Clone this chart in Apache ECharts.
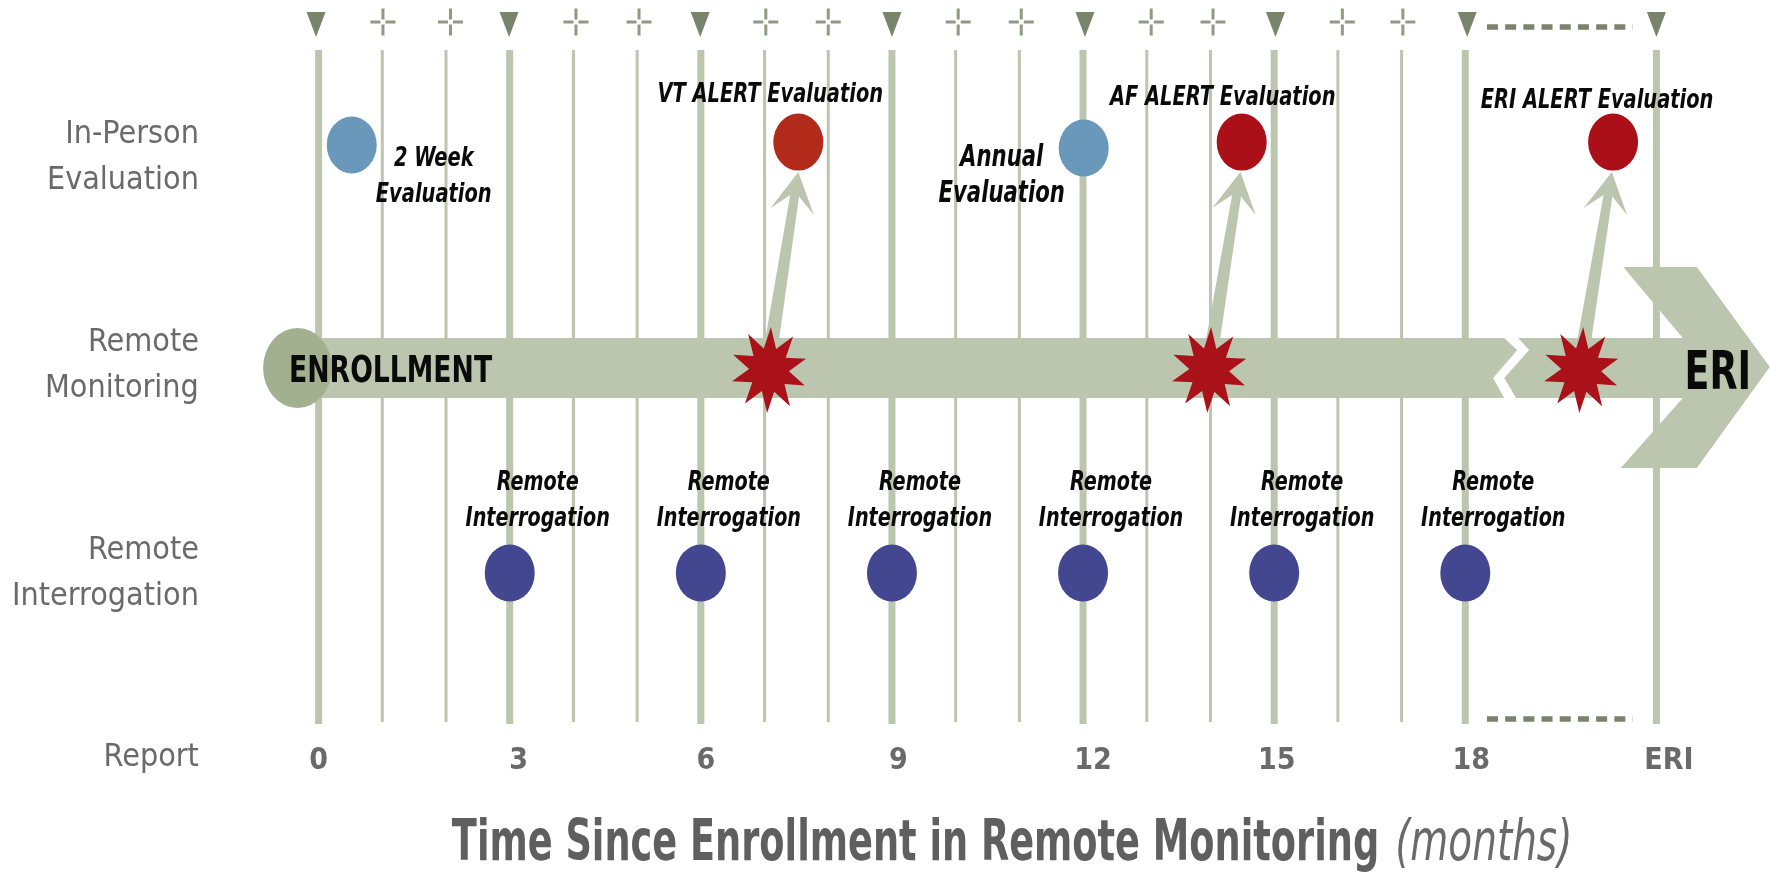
<!DOCTYPE html>
<html><head><meta charset="utf-8">
<style>html,body{margin:0;padding:0;background:#fff}#c{width:1770px;height:877px}</style>
<script src="https://cdn.jsdelivr.net/npm/echarts@6/dist/echarts.min.js"></script>
</head><body><div id="c"></div>
<script>
// ---- data (x = months since enrollment, ERI drawn at month 21; y = lane) ----
const xTickValues = [0,3,6,9,12,15,18,21];
const xTickLabels = ['0','3','6','9','12','15','18','ERI'];
const laneTickValues = [0.1,0.998,2.012,3.028];
const laneTickLabels = ['Report','Remote\nInterrogation','Remote\nMonitoring','In-Person\nEvaluation'];
const majorMonths = [0,3,6,9,12,15,18,21];
const minorMonths = [1,2,4,5,7,8,10,11,13,14,16,17];
const scheduleMarkers = [-0.04,2.99,5.99,9,12.03,15.02,18.03,21];
const monthlyMarkers = [1.01,2.07,4.04,5.03,7.02,8,10.04,11.03,13.07,14.04,16.07,17.02];
const dashedSpan = [18.34,20.63];
const routineEvalMonths = [0.52,12.01];
const routineEvalLanes = [3.088,3.073];
const routineEvalNames = ['2 Week\nEvaluation','Annual\nEvaluation'];
const alertEvalMonths = [7.53,14.49,20.32];
const alertEvalLane = 3.102;
const alertEvalNames = ['VT ALERT Evaluation','AF ALERT Evaluation','ERI ALERT Evaluation'];
const alertMonths = [7.07,13.98,19.82];
const alertLane = 1.99;
const arrowFromMonths = [7.10,14.02,19.85];
const arrowToMonths = [7.53,14.47,20.3];
const arrowLanes = [2.1,2.956];
const interrogationMonths = [3,6,9,12,15,18];
const interrogationName = 'Remote\nInterrogation';
const enrollMonth = -0.33, breakMonth = 18.72, tipMonth = 22.78;
const lineSpanMajor = [0.263,3.551], lineSpanMinor = [0.273,3.551];
const titleBold = 'Time Since Enrollment in Remote Monitoring', titleItalic = '(months)';
const titleMonths = [9.37,18.29], titleLane = -0.317;

// ---- styling / layout ----
const FONT = '"DejaVu Sans Condensed","DejaVu Sans",sans-serif';
const SAGE = '#bcc6ae', SAGE_D = '#a3b090', MARK = '#7a846c', GREY = '#6a6a6a';
const labelNudge = [0,18,10,13,20,5,12,25];
const rich = {}; xTickLabels.forEach((t,i)=>{rich['t'+i]={fontFamily:FONT,fontWeight:'bold',fontSize:30,color:GREY,padding:[0,0,0,labelNudge[i]]};});

const breaks = (months,span)=>months.flatMap(m=>[[m,span[0]],[m,span[1]],[m,null]]);
const star = (()=>{let p='path://';for(let i=0;i<20;i++){const r=i%2?26:50,a=i*Math.PI/10+0.05;p+=(i?'L':'M')+(50+r*Math.sin(a)).toFixed(1)+','+(50-r*Math.cos(a)).toFixed(1);}return p+'Z';})();
const plus = 'path://M11,0h3v11h-3zM11,16h3v11h-3zM0,12h10v3h-10zM15,12h10v3h-10z';

// text drawn with a horizontal squeeze, anchored through the axes
function textSeries(name, points, texts, st){
  return {name,type:'custom',z:9,silent:true,clip:false,data:points,
   renderItem(params,api){
     const i=params.dataIndex, p=api.coord([api.value(0),api.value(1)]), s=st(i);
     return {type:'text',x:p[0]+(s.dx||0),y:p[1]+(s.dy||0),scaleX:s.scaleX,z2:1,
       style:{text:texts[i],fontFamily:FONT,fontSize:s.size,fontWeight:s.weight||'bold',fontStyle:s.italic===false?'normal':'italic',
              lineHeight:s.lh||36,fill:s.fill||'#0a0a0a',align:'center',verticalAlign:'middle'}};
   }};
}

function arrowItem(params,api){
  const a=api.coord([api.value(0),arrowLanes[0]]), b=api.coord([api.value(1),arrowLanes[1]]);
  const dx=b[0]-a[0],dy=b[1]-a[1],L=Math.hypot(dx,dy),ux=dx/L,uy=dy/L,nx=-uy,ny=ux;
  const P=(t,s)=>[b[0]-ux*t+nx*s,b[1]-uy*t+ny*s];
  const start=[a[0]+nx*7,a[1]+ny*7], startB=[a[0]-nx*7,a[1]-ny*7];
  return {type:'polygon',shape:{points:[start,P(24,4.5),P(40,22),P(0,0),P(40,-22),P(24,-4.5),startB]},style:{fill:SAGE},z2:1};
}
function barItem(params,api){
  const s=api.coord([api.value(0),api.value(3)]), br=api.coord([api.value(1),api.value(3)]), t=api.coord([api.value(2),api.value(3)]);
  const cy=s[1], B=br[0], T=t[0];
  return {type:'group',children:[
   {type:'polygon',shape:{points:[[s[0],cy-30],[B-7,cy-30],[B+6,cy-18],[B-18,cy+10],[B-7,cy+30],[s[0],cy+30]]},style:{fill:SAGE}},
   {type:'polygon',shape:{points:[[B+7,cy-30],[T-87,cy-30],[T-146.5,cy-101],[T-73,cy-101],[T,cy-1],[T-73,cy+100],[T-149,cy+100],[T-87,cy+30],[B+5,cy+30],[B-7,cy+10],[B+18,cy-18]]},style:{fill:SAGE}}
  ]};
}

const annotationStyle = [
  i=>({size:27,scaleX:.8,dx:82,dy:32}),
  i=>({size:30,scaleX:.785,dx:-82,dy:28})
];
const alertOffsets = [[-28,-47],[-19,-44],[-16,-41]];

const option = {
 animation:false, backgroundColor:'#fff',
 grid:{left:254.9,right:0.2,top:9.25,height:768.75,containLabel:false,outerBoundsMode:'none'},
 xAxis:{type:'value',min:-1,max:22.78,splitLine:{show:false},axisLine:{show:false},axisTick:{show:false},
  axisLabel:{customValues:xTickValues,inside:true,margin:2,hideOverlap:false,showMinLabel:true,showMaxLabel:true,rich,
    formatter:v=>{const i=xTickValues.indexOf(v);return i<0?'':'{t'+i+'|'+xTickLabels[i]+'}';}}},
 yAxis:{type:'value',min:0,max:3.75,splitLine:{show:false},axisLine:{show:false},axisTick:{show:false},
  axisLabel:{customValues:laneTickValues,margin:56,align:'right',fontFamily:FONT,fontSize:32,lineHeight:46,color:GREY,showMinLabel:true,showMaxLabel:true,
    formatter:v=>{const i=laneTickValues.indexOf(v);return i<0?'':laneTickLabels[i];}}},
 series:[
  {name:'Quarterly',type:'line',z:1,symbol:'none',silent:true,connectNulls:false,lineStyle:{color:SAGE,width:7},data:breaks(majorMonths,lineSpanMajor)},
  {name:'Monthly',type:'line',z:1,symbol:'none',silent:true,connectNulls:false,lineStyle:{color:SAGE,width:3},data:breaks(minorMonths,lineSpanMinor)},
  {name:'Dash top',type:'line',z:1,symbol:'none',lineStyle:{color:MARK,width:5.5,type:[11,7.2]},data:dashedSpan.map(m=>[m,3.663])},
  {name:'Dash bottom',type:'line',z:1,symbol:'none',lineStyle:{color:MARK,width:5.5,type:[11,7.2]},data:dashedSpan.map(m=>[m,0.288])},
  {name:'Schedule',type:'scatter',z:2,symbol:'triangle',symbolRotate:180,symbolSize:[19,25],itemStyle:{color:MARK,opacity:1},data:scheduleMarkers.map(m=>[m,3.676])},
  {name:'Monthly check',type:'scatter',z:2,symbol:plus,symbolSize:[25,27],itemStyle:{color:'#8f9a82',opacity:1},data:monthlyMarkers.map(m=>[m,3.688])},
  {name:'Alert arrows',type:'custom',z:3,renderItem:arrowItem,data:arrowFromMonths.map((m,i)=>[m,arrowToMonths[i]])},
  {name:'Remote Monitoring',type:'custom',z:4,renderItem:barItem,data:[[enrollMonth,breakMonth,tipMonth,2]]},
  {name:'Enrollment',type:'scatter',z:5,symbol:'circle',symbolSize:[69,80],itemStyle:{color:SAGE_D,opacity:1},data:[[enrollMonth,2]]},
  {name:'Alerts',type:'scatter',z:6,symbol:star,symbolSize:[74,86],itemStyle:{color:'#ab1118',opacity:1},data:alertMonths.map(m=>[m,alertLane])},
  {name:'Routine evaluation',type:'scatter',z:7,symbol:'circle',symbolSize:[50,57],itemStyle:{color:'#6a98bb',opacity:1},data:routineEvalMonths.map((m,i)=>[m,routineEvalLanes[i]])},
  {name:'Alert evaluation',type:'scatter',z:7,symbol:'circle',symbolSize:[50,57],itemStyle:{color:'#ab1018',opacity:1},
   data:alertEvalMonths.map((m,i)=>({value:[m,alertEvalLane],itemStyle:i==0?{color:'#b22a1a'}:undefined}))},
  {name:'Remote Interrogation',type:'scatter',z:7,symbol:'circle',symbolSize:[50,57],itemStyle:{color:'#43478f',opacity:1},data:interrogationMonths.map(m=>[m,1])},
  textSeries('Routine labels',routineEvalMonths.map((m,i)=>[m,routineEvalLanes[i]]),routineEvalNames,i=>annotationStyle[i](i)),
  textSeries('Alert labels',alertEvalMonths.map(m=>[m,alertEvalLane]),alertEvalNames,i=>({size:27,scaleX:.8,dx:alertOffsets[i][0],dy:alertOffsets[i][1]})),
  textSeries('Interrogation labels',interrogationMonths.map(m=>[m,1]),interrogationMonths.map(()=>interrogationName),i=>({size:27,scaleX:.79,dx:28,dy:-72})),
  textSeries('Bar labels',[[enrollMonth,2],[tipMonth,2]],['ENROLLMENT','ERI'],i=>i==0?({size:38,scaleX:.78,dx:93,dy:4,italic:false}):({size:54,scaleX:.75,dx:-52,dy:7,italic:false})),
  textSeries('Axis title',titleMonths.map(m=>[m,titleLane]),[titleBold,titleItalic],i=>i==0?({size:57,scaleX:.716,italic:false,fill:'#5f5f5f',lh:60,dy:2}):({size:57,scaleX:.76,weight:'normal',fill:'#6a6a6a',lh:60,dy:2}))
 ]
};
echarts.init(document.getElementById('c')).setOption(option);
</script></body></html>
